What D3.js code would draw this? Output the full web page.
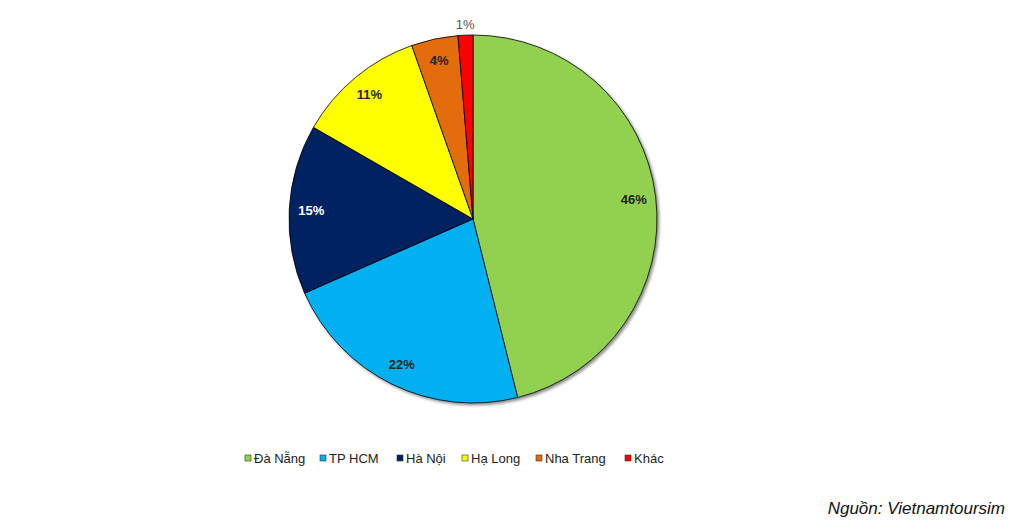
<!DOCTYPE html>
<html>
<head>
<meta charset="utf-8">
<script src="https://cdn.jsdelivr.net/npm/d3@7"></script>
<style>
  body { margin: 0; background: #fff; }
  svg { display: block; font-family: "Liberation Sans", Arial, sans-serif; }
</style>
</head>
<body>
<script>
  // data
  let cities = ["Đà Nẵng", "TP HCM", "Hà Nội", "Hạ Long", "Nha Trang", "Khác"];
  let shares = [46.1, 22.3, 14.9, 11.3, 4.1, 1.3];
  let labels = ["46%", "22%", "15%", "11%", "4%", "1%"];
  let colors = ["#92D050", "#00B0F0", "#002060", "#FFFF00", "#E36C09", "#FF0000"];

  let width = 1022, height = 529;
  let cx = 473, cy = 219, radius = 184;

  let svg = d3.select("body")
    .append("svg")
    .attr("width", width)
    .attr("height", height);

  // soft shadow round the pie
  let filter = svg.append("defs").append("filter")
    .attr("id", "shadow")
    .attr("x", "-10%").attr("y", "-10%")
    .attr("width", "120%").attr("height", "120%");
  filter.append("feDropShadow")
    .attr("dx", 2).attr("dy", 2)
    .attr("stdDeviation", 1.5)
    .attr("flood-color", "#000")
    .attr("flood-opacity", 0.45);

  let rows = cities.map((c, i) => ({ city: c, value: shares[i], label: labels[i], color: colors[i] }));

  let pie = d3.pie().sort(null).value((d) => d.value);
  let arc = d3.arc().innerRadius(0).outerRadius(radius);
  let arcs = pie(rows);

  let g = svg.append("g").attr("transform", `translate(${cx},${cy})`);

  g.append("g")
    .attr("filter", "url(#shadow)")
    .selectAll("path")
    .data(arcs)
    .enter()
    .append("path")
    .attr("d", arc)
    .attr("fill", (d) => d.data.color)
    .attr("stroke", "#000")
    .attr("stroke-width", 0.8);

  // labels sit inside the slice, the tiny one goes outside
  let inner = d3.arc().innerRadius(radius * 0.88).outerRadius(radius * 0.88);
  let outer = d3.arc().innerRadius(radius * 1.06).outerRadius(radius * 1.06);

  g.selectAll(".lbl")
    .data(arcs)
    .enter()
    .append("text")
    .attr("class", "lbl")
    .attr("transform", (d) => `translate(${(d.data.value < 2 ? outer : inner).centroid(d)})`)
    .attr("text-anchor", "middle")
    .attr("dy", "0.35em")
    .attr("font-size", 13)
    .attr("font-weight", (d) => d.data.value < 2 ? "normal" : "bold")
    .attr("fill", (d) => d.data.value < 2 ? "#555" : (d.data.color === "#002060" ? "#fff" : "#222"))
    .text((d) => d.data.label);

  // legend
  let legendPos = [245, 320, 397, 462, 536, 625];

  let legend = svg.append("g")
    .selectAll("g")
    .data(rows)
    .enter()
    .append("g")
    .attr("transform", (d, i) => `translate(${legendPos[i]},458)`);

  legend.append("rect")
    .attr("x", 0).attr("y", -3)
    .attr("width", 6).attr("height", 6)
    .attr("fill", (d) => d.color)
    .attr("stroke", "#333")
    .attr("stroke-width", 0.6);

  legend.append("text")
    .attr("x", 9)
    .attr("dy", "0.35em")
    .attr("font-size", 13)
    .attr("fill", "#222")
    .text((d) => d.city);

  svg.append("text")
    .attr("x", 1005)
    .attr("y", 514)
    .attr("text-anchor", "end")
    .attr("font-size", 17)
    .attr("font-style", "italic")
    .attr("fill", "#111")
    .text("Nguồn: Vietnamtoursim");
</script>
</body>
</html>
